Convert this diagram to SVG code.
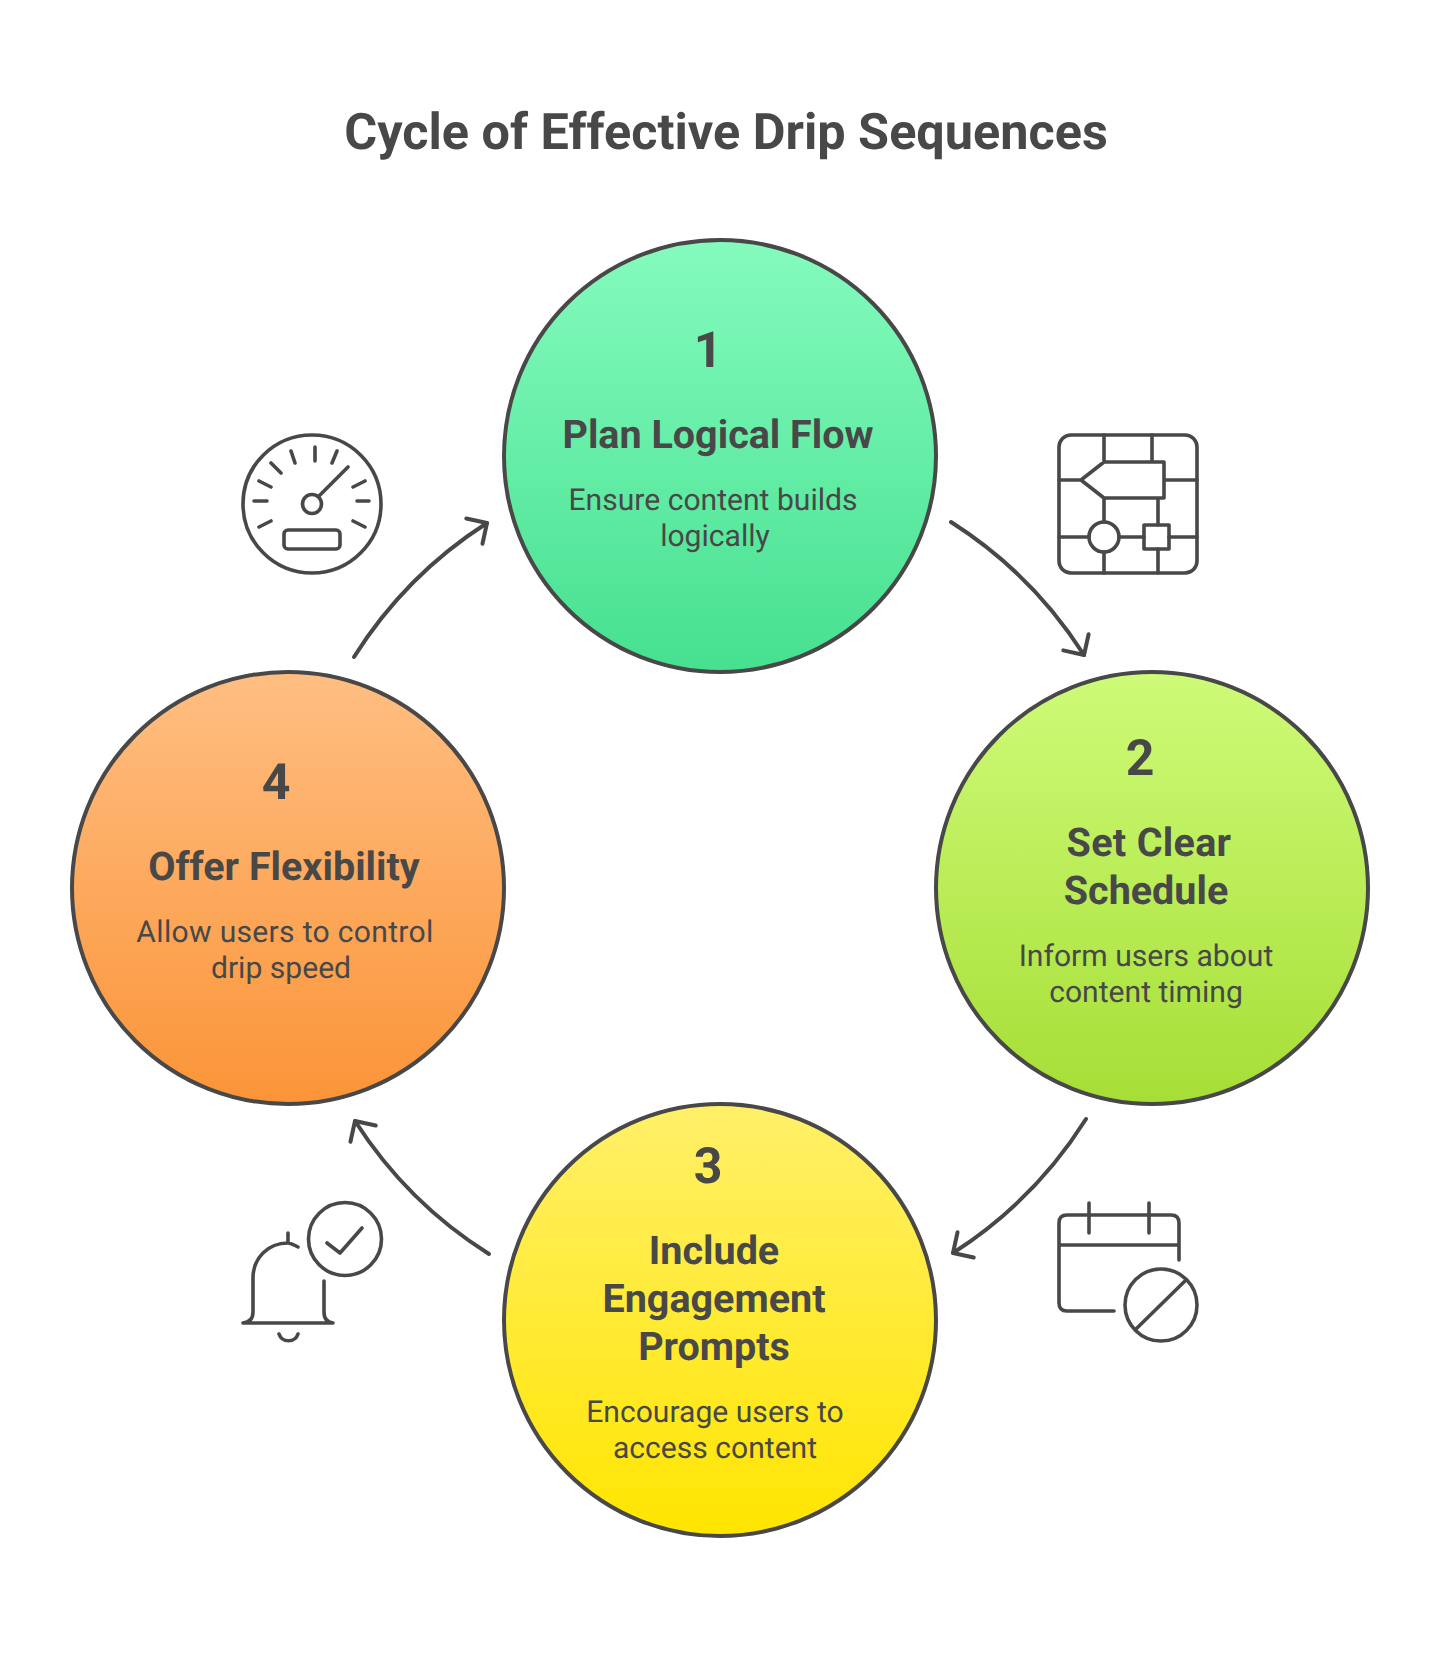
<svg xmlns="http://www.w3.org/2000/svg" width="1440" height="1656" viewBox="0 0 1440 1656">
<style>
text{font-family:Roboto,"Liberation Sans",sans-serif;fill:#484848;text-anchor:middle;text-rendering:geometricPrecision}
.t{font-size:50.4px;font-weight:700}
.n{font-size:50px;font-weight:700}
.h{font-size:39.5px;font-weight:700}
.b{font-size:30.1px;font-weight:400}
.c{stroke:#484848;stroke-width:4}
.l{fill:none;stroke:#484848;stroke-width:3.6;stroke-linecap:round;stroke-linejoin:round}
.a{fill:none;stroke:#484848;stroke-width:4;stroke-linecap:round;stroke-linejoin:round;marker-end:url(#head)}
.m{fill:none;stroke:#484848;stroke-width:4;stroke-linecap:round;stroke-linejoin:round}
</style>
<defs>
<linearGradient id="g1" x1="0" y1="0" x2="0" y2="1"><stop offset="0" stop-color="#84FBBD"/><stop offset="1" stop-color="#46E090"/></linearGradient>
<linearGradient id="g2" x1="0" y1="0" x2="0" y2="1"><stop offset="0" stop-color="#CEFB78"/><stop offset="1" stop-color="#A6DE36"/></linearGradient>
<linearGradient id="g3" x1="0" y1="0" x2="0" y2="1"><stop offset="0" stop-color="#FFF06A"/><stop offset="1" stop-color="#FFE500"/></linearGradient>
<linearGradient id="g4" x1="0" y1="0" x2="0" y2="1"><stop offset="0" stop-color="#FFBE82"/><stop offset="1" stop-color="#FB9438"/></linearGradient>
<marker id="head" markerUnits="userSpaceOnUse" viewBox="-24 -24 30 48" refX="0" refY="0" markerWidth="30" markerHeight="48" orient="auto"><path class="m" d="M-15-15L0 0L-15 15"/></marker>
</defs>
<text id="title" class="t" x="726" y="149">Cycle of Effective Drip Sequences</text>
<g id="connectors">
<path class="a" d="M354 657A433 433 0 0 1 487 523"/>
<path class="a" d="M951 522A433 433 0 0 1 1084 655"/>
<path class="a" d="M1086 1119A433 433 0 0 1 953 1253"/>
<path class="a" d="M489 1254A433 433 0 0 1 355 1121"/>
</g>
<g id="node-1">
<circle class="c" cx="720" cy="456" r="216" fill="url(#g1)"/>
<text class="n" x="708" y="367">1</text>
<text class="h" x="718" y="448">Plan Logical Flow</text>
<text class="b" x="713" y="510">Ensure content builds</text>
<text class="b" x="715" y="546">logically</text>
</g>
<g id="node-2">
<circle class="c" cx="1152" cy="888" r="216" fill="url(#g2)"/>
<text class="n" x="1140" y="775">2</text>
<text class="h" x="1149" y="856" letter-spacing="0.3">Set Clear</text>
<text class="h" x="1146" y="904">Schedule</text>
<text class="b" x="1146" y="966">Inform users about</text>
<text class="b" x="1146" y="1002">content timing</text>
</g>
<g id="node-3">
<circle class="c" cx="720" cy="1320" r="216" fill="url(#g3)"/>
<text class="n" x="708" y="1183">3</text>
<text class="h" x="714" y="1264">Include</text>
<text class="h" x="714" y="1312">Engagement</text>
<text class="h" x="714" y="1360">Prompts</text>
<text class="b" x="715" y="1422">Encourage users to</text>
<text class="b" x="715" y="1458">access content</text>
</g>
<g id="node-4">
<circle class="c" cx="288" cy="888" r="216" fill="url(#g4)"/>
<text class="n" x="276" y="799">4</text>
<text class="h" x="284" y="880">Offer Flexibility</text>
<text class="b" x="285" y="942" letter-spacing="0.3">Allow users to control</text>
<text class="b" x="281" y="978">drip speed</text>
</g>
<g id="icon-flow" class="l">
<rect x="1059" y="435" width="138" height="138" rx="12"/>
<path d="M1104 435V462M1152 435V462M1104 462H1164V498H1104L1081 480ZM1059 480H1081M1164 480H1197M1104 498V522M1158 498V525M1158 549V573M1104 552V573M1059 537H1089M1119 537H1144M1169 537H1197"/>
<circle cx="1104" cy="537" r="15"/>
<rect x="1144" y="525" width="25" height="24"/>
</g>
<g id="icon-calendar" class="l">
<path d="M1114 1311H1067Q1059 1311 1059 1303V1223Q1059 1215 1067 1215H1171Q1179 1215 1179 1223V1260M1059 1245H1179M1089 1203V1233M1149 1203V1233M1136 1329L1186 1280"/>
<circle cx="1161" cy="1305" r="36"/>
</g>
<g id="icon-bell" class="l">
<circle cx="345" cy="1239" r="36.5"/>
<path d="M327 1243L340 1253L362 1228M288 1233V1243M298 1247C294 1245 291 1243 288 1243C268 1243 253 1258 253 1278V1312Q253 1322 243 1323H333Q324 1322 324 1312V1281M279 1334C282 1343 295 1343 298 1334"/>
</g>
<g id="icon-gauge" class="l">
<circle cx="312" cy="504" r="69"/>
<circle cx="312" cy="504" r="9.5"/>
<path d="M319 496L348 467M315 447V461M291 451L295 463M271 463L281 473M259 481L271 487M254 501H267M259 527L271 521M337 451L332 463M365 481L353 487M357 501H369M353 521L365 527"/>
<rect x="284" y="530" width="56" height="19" rx="4"/>
</g>
</svg>
